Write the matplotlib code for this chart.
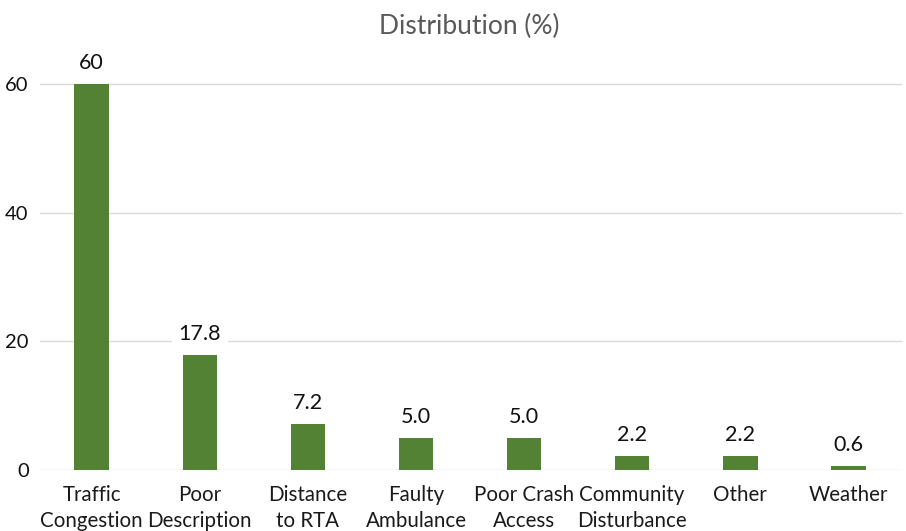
import matplotlib.pyplot as plt

# Reasons for delayed response, share of cases (%)
categories = [
    "Traffic\nCongestion", "Poor\nDescription", "Distance\nto RTA", "Faulty\nAmbulance",
    "Poor Crash\nAccess", "Community\nDisturbance", "Other", "Weather",
]
values = [60, 17.8, 7.2, 5.0, 5.0, 2.2, 2.2, 0.6]
yticks = [0, 20, 40, 60]

BAR_GREEN = "#548235"
GRID_GREY = "#d9d9d9"

fig = plt.figure(figsize=(9.06, 5.31), dpi=100)
ax = fig.add_axes([0.044, 0.115, 0.952, 0.787])

x = range(len(categories))
bars = ax.bar(x, values, width=0.32, color=BAR_GREEN, zorder=2)

# value labels with white boxes so they cut through the gridlines
labels = [f"{v:.0f}" if v >= 50 else f"{v:.1f}" for v in values]
for rect, lab in zip(bars, labels):
    ax.annotate(lab, (rect.get_x() + rect.get_width() / 2, rect.get_height()),
                xytext=(0, 8), textcoords="offset points", ha="center", va="bottom",
                fontsize=15.5, family="Lato", color="#111111", zorder=3,
                bbox=dict(boxstyle="square,pad=0.3", fc="white", ec="none"))

ax.set_xlim(-0.48, 7.5)
ax.set_ylim(0, 65)
ax.set_yticks(yticks)
ax.set_xticks(list(x))
ax.set_xticklabels(categories, fontsize=14.8, family="Lato", color="#1a1a1a", linespacing=1.35)
ax.tick_params(axis="y", labelsize=14.5, labelcolor="#111111", length=0, pad=8)
ax.tick_params(axis="x", length=0, pad=11)
for lbl in ax.get_yticklabels():
    lbl.set_family("Lato")

ax.grid(axis="y", color=GRID_GREY, linewidth=1, zorder=0)
for side in ax.spines.values():
    side.set_visible(False)

fig.text(0.518, 0.950, "Distribution (%)", ha="center", va="center",
         fontsize=19, family="Lato", color="#595959")

fig.savefig("out.png", dpi=100)
